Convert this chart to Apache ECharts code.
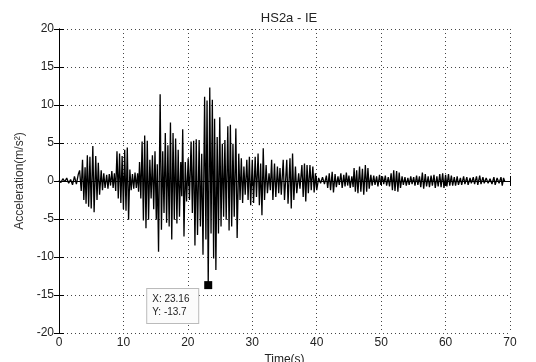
<!DOCTYPE html>
<html>
<head>
<meta charset="utf-8">
<script src="https://cdn.jsdelivr.net/npm/echarts@6/dist/echarts.min.js"></script>
<style>html,body{margin:0;padding:0;background:#fff}#c{width:536px;height:362px}</style>
</head>
<body>
<div id="c"></div>
<script>
const chartTitle = 'HS2a - IE';
const xTicks = [0, 10, 20, 30, 40, 50, 60, 70];
const yTicks = [-20, -15, -10, -5, 0, 5, 10, 15, 20];
const tipPoint = [23.16, -13.7];

const time = [
  0,0.3,0.6,0.9,1.2,1.5,1.8,2.1,2.4,2.7,3.0,
  3.2,3.45,3.65,3.85,4.05,4.2,4.4,4.6,4.8,5.0,5.25,5.45,5.7,5.9,6.1,6.3,6.55,6.75,6.95,7.15,7.4,7.6,7.8,8.0,
  8.2,8.4,8.6,8.8,9.0,9.2,9.4,9.6,9.8,10.0,10.2,10.4,10.6,10.8,11.0,11.2,11.4,11.6,11.8,12.0,
  12.2,12.35,12.5,12.7,12.9,13.1,13.3,13.5,13.7,13.9,14.1,14.3,14.5,14.7,14.9,15.1,15.25,15.45,15.7,15.9,
  16.1,16.3,16.5,16.7,16.9,17.1,17.3,17.5,17.7,17.9,18.1,18.3,18.5,18.7,18.9,19.05,19.2,19.4,19.6,19.8,
  20.05,20.25,20.5,20.7,20.9,21.1,21.3,21.5,21.75,21.95,22.15,22.35,22.6,22.8,22.98,23.16,23.4,23.6,23.8,24.0,
  24.15,24.35,24.55,24.75,24.95,25.15,25.35,25.55,25.75,25.95,26.2,26.4,26.6,26.8,27.0,27.2,27.45,27.65,27.9,28.1,
  28.3,28.5,28.7,28.9,29.15,29.35,29.55,29.75,30.0,30.2,30.45,30.65,30.9,31.1,31.3,31.5,31.7,31.9,32.15,32.35,
  32.6,32.8,33.0,33.2,33.45,33.65,33.9,34.1,34.3,34.5,34.8,35.0,35.35,35.55,35.85,36.05,36.25,36.45,36.7,36.9,
  37.2,37.4,37.7,37.9,38.1,38.3,38.5,38.7,38.95,39.15,39.4,39.6,39.8,40.0,
  40.3,40.6,40.9,41.2,41.5,41.7,41.95,42.15,42.4,42.6,42.85,43.05,43.3,43.5,43.75,43.95,44.2,44.4,44.6,44.8,
  45.0,45.2,45.45,45.65,45.8,46.0,46.2,46.4,46.65,46.85,47.1,47.3,47.55,47.75,47.95,48.15,48.4,48.6,48.85,49.05,
  49.3,49.5,49.75,49.95,50.2,50.4,50.65,50.85,51.1,51.3,51.55,51.75,51.95,52.15,52.4,52.6,52.8,53.0,53.25,53.45,
  53.7,53.9,54.15,54.35,54.6,54.8,55.05,55.25,55.5,55.7,55.95,56.15,56.4,56.6,56.85,57.05,57.3,57.5,57.75,57.95,
  58.2,58.4,58.65,58.85,59.1,59.3,59.55,59.75,60.0,60.2,60.45,60.65,60.9,61.1,61.35,61.55,61.8,62.0,62.3,62.5,
  62.8,63.0,63.3,63.5,63.8,64.0,64.3,64.5,64.8,65.0,65.3,65.5,65.8,66.0,66.3,66.6,66.9,67.2,67.5,67.7,
  68.0,68.3,68.6,68.8,69.0,69.2
];
const accel = [
  0.1,-0.2,0.3,-0.1,0.4,-0.3,0.2,-0.5,0.6,-0.4,0.9,
  1.4,-1.3,2.8,-2.5,1.8,-3.0,3.4,-3.4,3.2,-3.6,4.6,-4.1,3.3,-2.5,2.4,-1.8,1.4,-1.2,1.0,-0.9,0.8,-1.0,0.9,-0.6,
  1.3,-0.9,1.0,-1.3,3.9,-2.3,3.6,-2.9,3.3,-3.7,4.1,-3.9,4.4,-5.1,1.5,-1.2,0.9,-1.0,1.1,-0.9,
  1.0,-1.4,2.5,-2.3,5.2,-5.2,6.0,-6.2,5.3,-5.1,2.8,-2.3,3.4,-3.7,3.9,-5.1,2.2,-9.3,11.4,-6.4,
  3.9,-4.2,6.3,-5.5,4.7,-6.0,7.7,-7.7,6.3,-5.1,5.6,-5.6,4.1,-4.7,2.5,-2.0,6.8,-7.3,2.5,-2.7,
  3.0,-2.5,5.2,-4.2,5.3,-8.5,5.5,-7.1,5.4,-6.0,3.6,-9.7,11.1,-7.7,10.6,-13.7,12.3,-6.9,10.7,-10.2,
  8.2,-11.7,5.8,-6.9,8.4,-6.0,4.9,-4.7,5.4,-5.1,7.2,-6.5,7.4,-6.0,4.9,-4.7,6.9,-7.5,3.6,-2.5,
  3.0,-2.9,1.9,-1.8,2.8,-2.5,3.2,-3.2,2.8,-2.9,3.2,-2.1,3.6,-3.2,2.3,-4.5,4.3,-2.5,2.1,-1.6,
  1.0,-1.2,2.8,-2.5,2.3,-2.1,1.9,-1.6,1.7,-1.8,2.8,-2.5,2.8,-3.0,3.0,-3.6,3.6,-2.5,1.9,-1.6,
  1.0,-1.0,2.1,-2.1,2.3,-2.7,2.1,-1.6,2.1,-1.2,1.9,-1.5,1.0,-1.2,
  0.4,-0.3,0.5,-0.4,0.7,-0.9,1.0,-1.2,1.2,-1.5,0.9,-0.8,0.6,-0.5,1.0,-0.9,0.8,-0.7,1.1,-0.6,
  0.7,-0.9,0.6,-0.8,1.7,-1.4,1.4,-1.6,1.9,-1.4,1.6,-1.8,2.1,-1.4,1.7,-1.0,0.8,-0.6,0.7,-0.5,
  0.6,-0.7,0.8,-0.5,0.6,-0.4,0.7,-0.6,0.5,-0.7,1.0,-1.2,1.4,-1.3,1.3,-1.4,1.1,-0.9,0.6,-0.5,
  0.5,-0.6,0.4,-0.5,0.6,-0.4,0.5,-0.6,0.7,-0.5,0.6,-0.8,1.1,-1.0,0.9,-0.7,0.6,-0.8,0.7,-0.6,
  0.8,-0.9,0.6,-0.7,0.9,-0.8,1.0,-0.9,0.8,-0.7,0.9,-0.6,0.7,-0.6,0.5,-0.6,0.6,-0.5,0.4,-0.5,
  0.6,-0.4,0.5,-0.5,0.4,-0.3,0.5,-0.4,0.6,-0.5,0.7,-0.4,0.5,-0.3,0.4,-0.3,0.3,-0.4,0.5,-0.5,
  0.4,-0.3,0.5,-0.6,0.4,-0.1
];

const font = 'Liberation Sans, Arial, sans-serif';
const data = time.map((t, i) => [t, accel[i]]);
const chart = echarts.init(document.getElementById('c'), null, {renderer: 'canvas'});

const tickCommon = {inside: true, length: 5, lineStyle: {color: '#000'}};
chart.setOption({
  animation: false,
  backgroundColor: '#fff',
  title: {
    text: chartTitle, left: 284, top: 7, textAlign: 'center',
    textStyle: {fontFamily: font, fontSize: 13, fontWeight: 'normal', color: '#222'}
  },
  grid: {left: 59, right: 26, top: 29, bottom: 29, containLabel: false, outerBoundsMode: 'none'},
  xAxis: [{
    type: 'value', min: xTicks[0], max: xTicks[xTicks.length - 1], interval: 10,
    name: 'Time(s)', nameLocation: 'middle', nameGap: 18,
    nameTextStyle: {fontFamily: font, fontSize: 12, color: '#222'},
    axisLine: {lineStyle: {color: '#000', width: 1}},
    axisTick: tickCommon,
    axisLabel: {fontFamily: font, fontSize: 12, color: '#222', margin: 4},
    splitLine: {show: true, lineStyle: {color: '#444', type: [1, 3], width: 1}}
  }, {
    type: 'value', position: 'top', min: xTicks[0], max: xTicks[xTicks.length - 1], interval: 10,
    axisLine: {show: true, lineStyle: {color: '#000'}}, axisTick: tickCommon,
    axisLabel: {show: false}, splitLine: {show: false}
  }],
  yAxis: [{
    type: 'value', min: yTicks[0], max: yTicks[yTicks.length - 1], interval: 5,
    name: 'Acceleration(m/s²)', nameLocation: 'middle', nameGap: 31, nameRotate: 90,
    nameTextStyle: {fontFamily: font, fontSize: 12, color: '#333'},
    axisLine: {show: true, lineStyle: {color: '#000', width: 1}},
    axisTick: tickCommon,
    axisLabel: {fontFamily: font, fontSize: 12, color: '#222', margin: 5},
    splitLine: {show: true, lineStyle: {color: '#444', type: [1, 3], width: 1}}
  }, {
    type: 'value', position: 'right', min: yTicks[0], max: yTicks[yTicks.length - 1], interval: 5,
    axisLine: {show: true, lineStyle: {color: '#000'}}, axisTick: tickCommon,
    axisLabel: {show: false}, splitLine: {show: false}
  }],
  series: [{
    type: 'line', data: data, showSymbol: false, sampling: null,
    lineStyle: {color: '#000', width: 1.3}, z: 3,
    markPoint: {
      symbol: 'rect', symbolSize: 8,
      itemStyle: {color: '#000'},
      data: [{coord: tipPoint}],
      label: {
        show: true, position: 'inside', offset: [-61, 21],
        formatter: 'X: ' + tipPoint[0] + '\nY: ' + tipPoint[1],
        fontFamily: font, fontSize: 10, color: '#222', lineHeight: 13,
        align: 'left', width: 40,
        backgroundColor: '#fbfbfb', borderColor: '#bbb', borderWidth: 1,
        padding: [4, 6, 4, 5]
      }
    }
  }]
});
</script>
</body>
</html>
